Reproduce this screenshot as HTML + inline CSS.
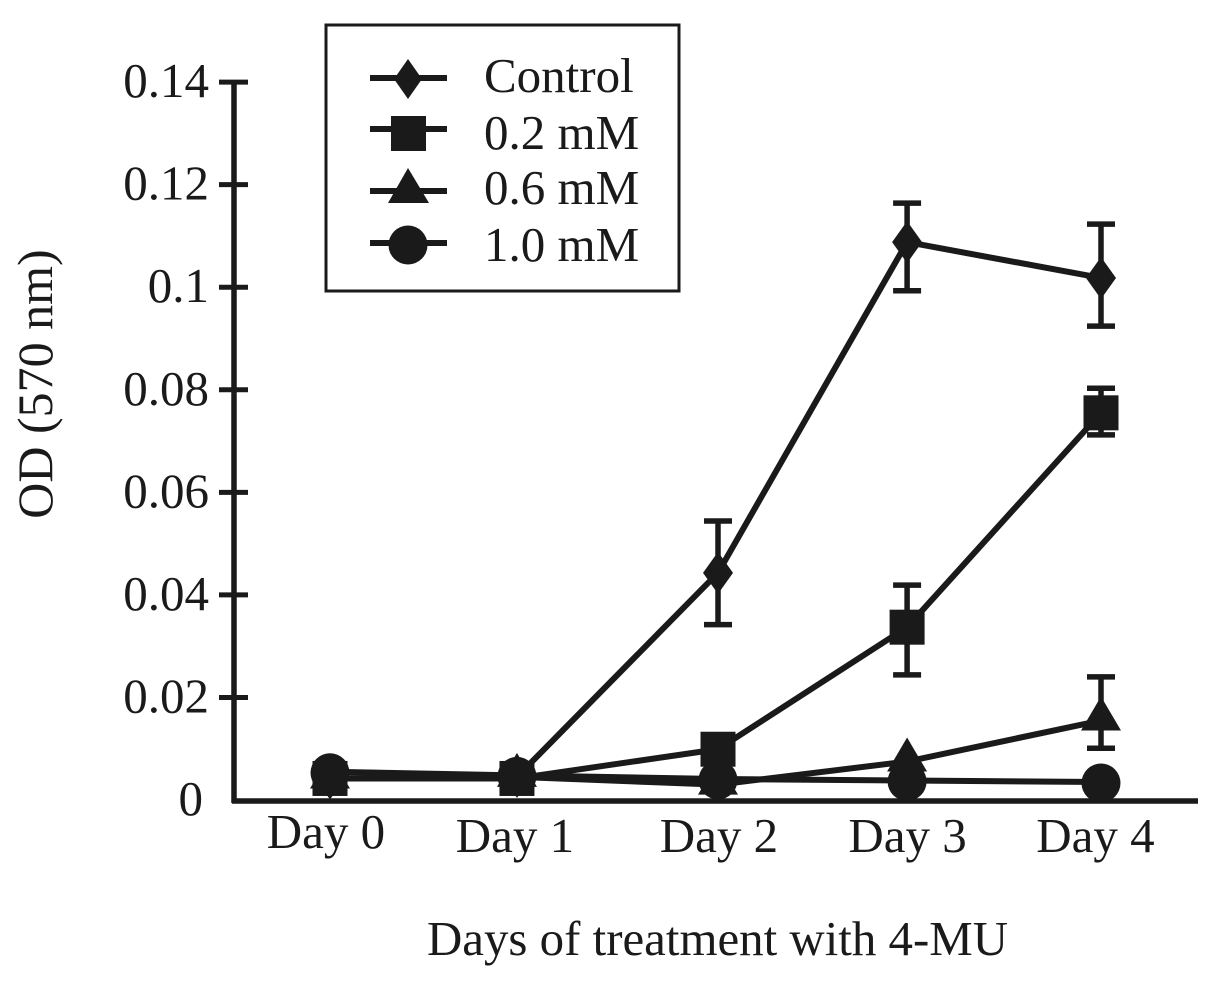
<!DOCTYPE html>
<html lang="en">
<head>
<meta charset="utf-8">
<title>OD vs days of treatment with 4-MU</title>
<style>
html,body{margin:0;padding:0;background:#fff;width:1217px;height:990px;overflow:hidden}
svg{display:block}
text{font-family:"Liberation Serif",serif;font-size:49px;fill:#1a1a1a}
</style>
</head>
<body>
<svg id="chart" width="1217" height="990" viewBox="0 0 1217 990" xmlns="http://www.w3.org/2000/svg">
  <rect x="0" y="0" width="1217" height="990" fill="#fff"/>
  <g id="series-layer"></g>
  <g id="axis-layer"></g>
  <text transform="translate(52,384) rotate(-90)" text-anchor="middle" style="font-size:50px">OD (570 nm)</text>
  <text x="427" y="955" textLength="581" lengthAdjust="spacingAndGlyphs">Days of treatment with 4-MU</text>
  <g>
    <rect x="326" y="25" width="353" height="266" fill="#fff" stroke="#1a1a1a" stroke-width="3"/>
    <g>
      <line x1="370" y1="78" x2="447" y2="78" stroke="#1a1a1a" stroke-width="6"/>
      <polygon points="408,59 422,79 408,99 394,79" fill="#1a1a1a"/>
      <text x="484" y="92">Control</text>
    </g>
    <g>
      <line x1="370" y1="129" x2="447" y2="129" stroke="#1a1a1a" stroke-width="6"/>
      <rect x="391" y="116" width="35" height="35" fill="#1a1a1a"/>
      <text x="484" y="149">0.2 mM</text>
    </g>
    <g>
      <line x1="370" y1="191" x2="447" y2="191" stroke="#1a1a1a" stroke-width="6"/>
      <polygon points="408,168 429,203 388,203" fill="#1a1a1a"/>
      <text x="484" y="204">0.6 mM</text>
    </g>
    <g>
      <line x1="370" y1="243" x2="447" y2="243" stroke="#1a1a1a" stroke-width="6"/>
      <circle cx="408" cy="245" r="19.5" fill="#1a1a1a"/>
      <text x="484" y="261">1.0 mM</text>
    </g>
  </g>
</svg>
<script>
const categories = ['Day 0', 'Day 1', 'Day 2', 'Day 3', 'Day 4'];
const categoryDays = [0, 0.97, 2.013, 2.994, 4];
const yTicks = [0, 0.02, 0.04, 0.06, 0.08, 0.1, 0.12, 0.14];
const yTickLabels = ['0', '0.02', '0.04', '0.06', '0.08', '0.1', '0.12', '0.14'];

const controlValues = [0.0042, 0.0045, 0.0443, 0.1088, 0.1018];
const controlUpper = [null, null, 0.0544, 0.1164, 0.1123];
const controlLower = [null, null, 0.0342, 0.0993, 0.0924];

const mM02Values = [0.0042, 0.0042, 0.0099, 0.0337, 0.0755];
const mM02Upper = [null, null, null, 0.0419, 0.0803];
const mM02Lower = [null, null, null, 0.0244, 0.0712];

const mM06Values = [0.0042, 0.0045, 0.003, 0.0075, 0.0155];
const mM06Upper = [null, null, null, null, 0.024];
const mM06Lower = [null, null, null, null, 0.0101];

const mM10Values = [0.0055, 0.0048, 0.0041, 0.0038, 0.0035];

const INK = '#1a1a1a';
const NS = 'http://www.w3.org/2000/svg';
const yScale = v => 800 - v * 5128;
const xScale = d => 330 + d * 192.75;

function make(tag, attrs, parent) {
  const el = document.createElementNS(NS, tag);
  for (const k in attrs) el.setAttribute(k, attrs[k]);
  parent.appendChild(el);
  return el;
}

const axisLayer = document.getElementById('axis-layer');
const seriesLayer = document.getElementById('series-layer');

const yAxis = make('line', {x1: 234, y1: 80, x2: 234, y2: 803, stroke: INK, 'stroke-width': 5.5}, axisLayer);


const xAxis = make('line', {x1: 232, y1: 801, x2: 1198, y2: 801, stroke: INK, 'stroke-width': 5.5}, axisLayer);



yTicks.forEach((t, i) => {
  const y = yScale(t);
  if (t > 0) {
    const tick = make('line', {x1: 219, y1: y, x2: 248, y2: y, stroke: INK, 'stroke-width': 5}, axisLayer);
    
    
  }
  const label = make('text', {x: t === 0 ? 203 : 209, y: y + 15, 'text-anchor': 'end'}, axisLayer);
  
  
  label.textContent = yTickLabels[i];
});

const labelNudge = [-4, -2, 1, 0.5, -5.5];
categories.forEach((c, i) => {
  const label = make('text', {x: xScale(categoryDays[i]) + labelNudge[i], y: i === 0 ? 848 : 852, 'text-anchor': 'middle'}, axisLayer);
  
  
  label.textContent = c;
});

function drawMarker(kind, x, y, parent) {
  let m;
  if (kind === 'diamond') {
    m = make('polygon', {points: [x, y - 21, x + 15, y, x, y + 21, x - 15, y].join(','), fill: INK}, parent);
  } else if (kind === 'square') {
    m = make('rect', {x: x - 17.5, y: y - 17.5, width: 35, height: 35, fill: INK}, parent);
  } else if (kind === 'triangle') {
    m = make('polygon', {points: [x, y - 24, x + 20, y + 10, x - 20, y + 10].join(','), fill: INK}, parent);
  } else {
    m = make('circle', {cx: x, cy: y + 1, r: 19.5, fill: INK}, parent);
  }
  
  
}

function drawSeries(name, kind, values, upper, lower) {
  const g = make('g', {}, seriesLayer);
  
  
  const pts = values.map((v, i) => xScale(categoryDays[i]) + ',' + yScale(v)).join(' ');
  const line = make('polyline', {points: pts, fill: 'none', stroke: INK, 'stroke-width': 6, 'stroke-linejoin': 'round'}, g);
  
  
  values.forEach((v, i) => {
    const x = xScale(categoryDays[i]);
    if (upper && upper[i] !== null) {
      const yU = yScale(upper[i]);
      const yL = yScale(lower[i]);
      const bar = make('path', {
        d: 'M' + x + ' ' + yU + 'V' + yL + 'M' + (x - 14) + ' ' + yU + 'H' + (x + 14) + 'M' + (x - 14) + ' ' + yL + 'H' + (x + 14),
        fill: 'none', stroke: INK, 'stroke-width': 5.5
      }, g);
      
      
    }
    drawMarker(kind, x, yScale(v), g);
  });
}

drawSeries('series-control', 'diamond', controlValues, controlUpper, controlLower);
drawSeries('series-0-2-mm', 'square', mM02Values, mM02Upper, mM02Lower);
drawSeries('series-0-6-mm', 'triangle', mM06Values, mM06Upper, mM06Lower);
drawSeries('series-1-0-mm', 'circle', mM10Values, null, null);
</script>
</body>
</html>
